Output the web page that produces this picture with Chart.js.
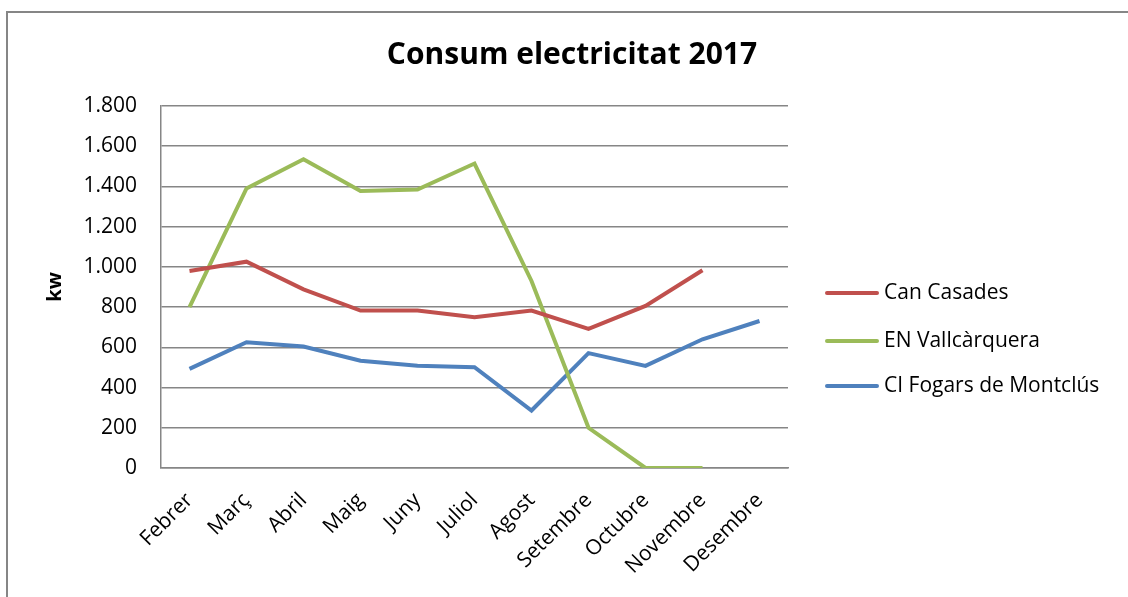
<!DOCTYPE html>
<html>
<head>
<meta charset="utf-8">
<script src="https://cdn.jsdelivr.net/npm/chart.js@4.4.0/dist/chart.umd.min.js"></script>
<style>
  body { margin: 0; background: #ffffff; }
  #wrap { position: relative; width: 1128px; height: 597px; overflow: hidden; }
  #frame { position: absolute; left: 6px; top: 11px; width: 1200px; height: 700px;
           border-left: 2px solid #868686; border-top: 2px solid #868686; }
  #c { position: absolute; left: 0; top: 0; }
</style>
</head>
<body>
<div id="wrap">
  <div id="frame"></div>
  <canvas id="c" width="1128" height="597"></canvas>
</div>
<script>
// Months on the x axis
var months = ['Febrer', 'Març', 'Abril', 'Maig', 'Juny', 'Juliol', 'Agost', 'Setembre', 'Octubre', 'Novembre', 'Desembre'];

// Consumption per building (kw)
var canCasades   = [980, 1026, 888, 783, 783, 750, 783, 692, 806, 983, null];
var vallcarquera = [800, 1390, 1535, 1377, 1385, 1514, 930, 200, 0, 0, null];
var fogars       = [493, 625, 604, 533, 508, 501, 286, 571, 508, 640, 731];

var seriesNames  = ['Can Casades', 'EN Vallcàrquera', 'CI Fogars de Montclús'];
var seriesColors = ['#C0504D', '#9BBB59', '#4F81BD'];

var gridGrey = '#868686';
var font = 'Open Sans';

// Legend drawn to the right of the plot, like the spreadsheet one
var sideLegend = {
    id: 'sideLegend',
    afterDraw: function(chart) {
        var ctx = chart.ctx;
        var area = chart.chartArea;
        var rows = [187, 235, 280];
        ctx.save();
        ctx.font = '21px "' + font + '"';
        ctx.textBaseline = 'middle';
        ctx.fillStyle = '#000000';
        for (let i = 0; i < chart.data.datasets.length; i++) {
            let ds = chart.data.datasets[i];
            let y = area.top + rows[i];
            ctx.strokeStyle = ds.borderColor;
            ctx.lineWidth = 4;
            ctx.lineCap = 'round';
            ctx.beginPath();
            ctx.moveTo(area.right + 39, y);
            ctx.lineTo(area.right + 89, y);
            ctx.stroke();
            ctx.fillText(ds.label, area.right + 96, y);
        }
        ctx.restore();
    }
};

var allSeries = [canCasades, vallcarquera, fogars];
var datasets = [];
for (let i = 0; i < allSeries.length; i++) {
    datasets.push({
        label: seriesNames[i],
        data: allSeries[i],
        borderColor: seriesColors[i],
        backgroundColor: seriesColors[i],
        borderWidth: 4,
        pointRadius: 0,
        tension: 0,
        spanGaps: false,
        yAxisID: 'y'
    });
}

new Chart(document.getElementById('c'), {
    type: 'line',
    data: { labels: months, datasets: datasets },
    options: {
        responsive: false,
        animation: false,
        layout: { padding: { left: 16, right: 0, top: 0, bottom: 0 } },
        plugins: {
            legend: { display: false },
            tooltip: { enabled: false },
            title: {
                display: true,
                text: 'Consum electricitat 2017',
                color: '#000000',
                font: { family: font, size: 30, weight: 'bold' },
                padding: { top: 37, bottom: 33 }
            }
        },
        scales: {
            x: {
                offset: true,
                grid: { display: false },
                border: { display: true, color: gridGrey, width: 1.5 },
                ticks: {
                    color: '#000000',
                    font: { family: font, size: 21 },
                    maxRotation: 45,
                    minRotation: 45,
                    autoSkip: false,
                    padding: 12
                },
                afterFit: function(scale) { scale.height = 129; }
            },
            y: {
                min: 0,
                max: 1800,
                ticks: {
                    stepSize: 200,
                    color: '#000000',
                    font: { family: font, size: 21 },
                    padding: 24,
                    callback: function(v) {
                        return v.toString().replace(/\B(?=(\d{3})+(?!\d))/g, '.');
                    }
                },
                grid: { color: gridGrey, lineWidth: 1.5, drawTicks: false },
                border: { display: true, color: gridGrey, width: 1.5 },
                title: {
                    display: true,
                    text: 'kw',
                    color: '#000000',
                    font: { family: font, size: 20, weight: 'bold' },
                    padding: { top: 27, bottom: 0 }
                },
                afterFit: function(scale) { scale.width = 145; }
            },
            // empty axis on the right that keeps room for the legend
            side: {
                position: 'right',
                display: true,
                grid: { display: false, drawTicks: false },
                border: { display: false },
                ticks: { display: false },
                afterFit: function(scale) { scale.width = 340; }
            }
        }
    },
    plugins: [sideLegend]
});
</script>
</body>
</html>
